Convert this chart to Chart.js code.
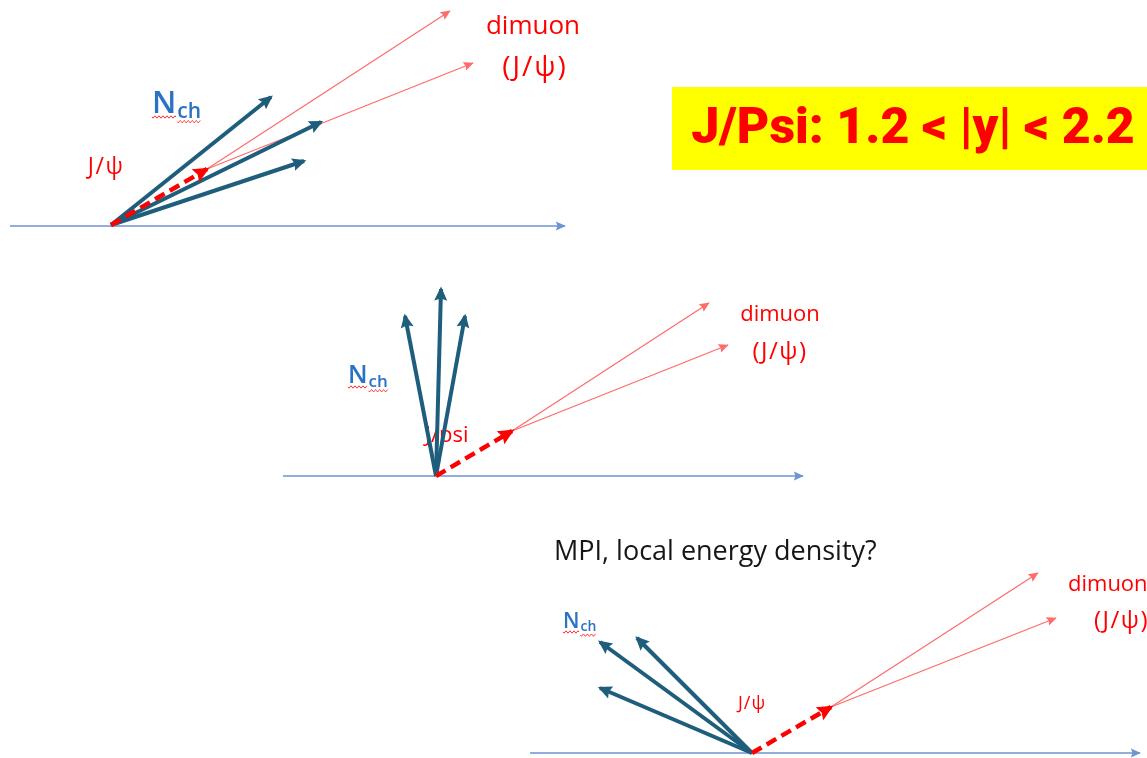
<!DOCTYPE html>
<html>
<head>
<meta charset="utf-8">
<script src="https://cdn.jsdelivr.net/npm/chart.js@4.4.0/dist/chart.umd.min.js"></script>
<style>
  html, body { margin: 0; padding: 0; background: #fff; overflow: hidden; }
  #wrap { width: 1147px; height: 758px; }
</style>
</head>
<body>
<div id="wrap"><canvas id="diagram" width="1147" height="758"></canvas></div>
<script>
// Three panels (x right, y down, in picture units)
const baselineY = [226, 476, 753];
const baselineX = [[10, 565], [283, 803], [530, 1140]];
const origins = [[111, 225], [436, 476], [752, 753]];
const nchTips = [
    [[271, 97], [321, 122], [304, 161]],
    [[405, 316], [441, 289], [465, 316]],
    [[600, 642], [637, 638], [600, 688]]
];
const jpsiTips = [[207, 169], [512, 431], [831, 707]];
const muonTips = [
    [[450, 11], [473, 63]],
    [[709, 303], [728, 345]],
    [[1038, 573], [1056, 618]]
];
const boxCorners = [[672, 87], [1147, 170]];

const COL_NCH = '#1f5d7c';
const COL_RED = '#ff0000';
const COL_MUON = '#ff6a6a';
const COL_AXIS = '#6f93d3';
const COL_NCH_TEXT = '#2a72c4';

const toPt = p => ({ x: p[0], y: p[1] });

// Build datasets from the arrays above
const datasets = [];
baselineY.forEach((y, i) => {
    datasets.push({
        data: [toPt([baselineX[i][0], y]), toPt([baselineX[i][1], y])],
        borderColor: COL_AXIS, borderWidth: 1.5, head: [10, 4.5], order: 4
    });
    muonTips[i].forEach(t => {
        datasets.push({
            data: [toPt(jpsiTips[i]), toPt(t)],
            borderColor: COL_MUON, borderWidth: 1.2, head: [10, 4.5], order: 3
        });
    });
    nchTips[i].forEach(t => {
        datasets.push({
            data: [toPt(origins[i]), toPt(t)],
            borderColor: COL_NCH, borderWidth: 4, head: [14, 6.5], order: 2
        });
    });
    datasets.push({
        data: [toPt(origins[i]), toPt(jpsiTips[i])],
        borderColor: COL_RED, borderWidth: 4.5, borderDash: [11, 6], head: [16, 7.5], order: 1
    });
});

// Text placed on the picture
const labels = [
    { text: 'dimuon', x: 533, y: 27, size: 26, color: COL_RED, align: 'center' },
    { text: '(J/\u03c8)', x: 535, y: 68, size: 28, color: COL_RED, align: 'center', spacing: 2 },
    { text: 'J/\u03c8', x: 106, y: 167, size: 23, color: COL_RED, align: 'center', spacing: 1.5 },
    { text: 'dimuon', x: 780, y: 315, size: 22, color: COL_RED, align: 'center' },
    { text: '(J/\u03c8)', x: 780, y: 352, size: 24, color: COL_RED, align: 'center', spacing: 1.5 },
    { text: 'J/psi', x: 425, y: 436, size: 22, color: COL_RED, align: 'left' },
    { text: 'MPI, local energy density?', x: 554, y: 552, size: 27, color: '#161616', align: 'left' },
    { text: 'dimuon', x: 1068, y: 585, size: 22, color: COL_RED, align: 'left' },
    { text: '(J/\u03c8)', x: 1094, y: 621, size: 24, color: COL_RED, align: 'left', spacing: 1.5 },
    { text: 'J/\u03c8', x: 752, y: 704, size: 18, color: COL_RED, align: 'center', spacing: 1 }
];
const nchLabels = [
    { x: 152, y: 113, size: 31 },
    { x: 348, y: 383, size: 25 },
    { x: 563, y: 628, size: 21 }
];

function squiggle(ctx, x0, x1, y, amp) {
    ctx.beginPath();
    ctx.moveTo(x0, y);
    for (let x = x0; x <= x1; x += 1) {
        ctx.lineTo(x, y + amp * Math.sin((x - x0) * Math.PI / 2));
    }
    ctx.strokeStyle = '#ff3030';
    ctx.lineWidth = 1;
    ctx.stroke();
}

const textPlugin = {
    id: 'diagramText',
    beforeDatasetsDraw(chart) {
        const ctx = chart.ctx;
        const sx = chart.scales.x, sy = chart.scales.y;
        ctx.save();

        // yellow title box
        const bx0 = sx.getPixelForValue(boxCorners[0][0]), by0 = sy.getPixelForValue(boxCorners[0][1]);
        const bx1 = sx.getPixelForValue(boxCorners[1][0]), by1 = sy.getPixelForValue(boxCorners[1][1]);
        ctx.fillStyle = '#ffff00';
        ctx.fillRect(bx0, by0, bx1 - bx0, by1 - by0);
        ctx.fillStyle = COL_RED;
        ctx.font = '900 50px Roboto, "Liberation Sans", sans-serif';
        ctx.textAlign = 'center';
        ctx.textBaseline = 'middle';
        ctx.fillText('J/Psi: 1.2 < |y| < 2.2', 913, (by0 + by1) / 2 + 2);

        labels.forEach(l => {
            ctx.font = l.size + 'px "Open Sans", sans-serif';
            ctx.letterSpacing = (l.spacing || 0) + 'px';
            ctx.fillStyle = l.color;
            ctx.textAlign = l.align;
            ctx.textBaseline = 'middle';
            ctx.fillText(l.text, sx.getPixelForValue(l.x), sy.getPixelForValue(l.y));
        });
        ctx.letterSpacing = '0px';

        nchLabels.forEach(n => {
            const x = sx.getPixelForValue(n.x), y = sy.getPixelForValue(n.y);
            ctx.textAlign = 'left';
            ctx.textBaseline = 'alphabetic';
            ctx.fillStyle = COL_NCH_TEXT;
            ctx.font = '600 ' + n.size + 'px "Open Sans", sans-serif';
            ctx.fillText('N', x, y);
            const wN = ctx.measureText('N').width;
            const sub = Math.round(n.size * 0.68);
            const ySub = y + n.size * 0.15;
            ctx.font = '600 ' + sub + 'px "Open Sans", sans-serif';
            ctx.fillText('ch', x + wN + 1, ySub);
            const wC = ctx.measureText('ch').width;
            squiggle(ctx, x, x + wN, y + 4, 1.2);
            squiggle(ctx, x + wN + 1, x + wN + 1 + wC, ySub + 4, 1.2);
        });
        ctx.restore();
    }
};

const arrowPlugin = {
    id: 'arrowHeads',
    afterDatasetDraw(chart, args) {
        const ds = chart.data.datasets[args.index];
        if (!ds.head) return;
        const pts = args.meta.data;
        const a = pts[0], b = pts[pts.length - 1];
        const ang = Math.atan2(b.y - a.y, b.x - a.x);
        const len = ds.head[0], half = ds.head[1];
        const ctx = chart.ctx;
        ctx.save();
        ctx.translate(b.x, b.y);
        ctx.rotate(ang);
        ctx.beginPath();
        ctx.moveTo(ds.borderWidth * 0.6, 0);
        ctx.lineTo(ds.borderWidth * 0.6 - len, -half);
        ctx.lineTo(ds.borderWidth * 0.6 - len * 0.85, 0);
        ctx.lineTo(ds.borderWidth * 0.6 - len, half);
        ctx.closePath();
        ctx.fillStyle = ds.borderColor;
        ctx.fill();
        ctx.restore();
    }
};

new Chart(document.getElementById('diagram').getContext('2d'), {
    type: 'scatter',
    data: { datasets: datasets.map(d => Object.assign({
        showLine: true, pointRadius: 0, pointHoverRadius: 0, fill: false,
        borderCapStyle: 'butt', tension: 0
    }, d)) },
    options: {
        responsive: false,
        animation: false,
        events: [],
        layout: { padding: 0 },
        scales: {
            x: { type: 'linear', min: 0, max: 1147, display: false },
            y: { type: 'linear', min: 0, max: 758, reverse: true, display: false }
        },
        plugins: {
            legend: { display: false },
            tooltip: { enabled: false }
        }
    },
    plugins: [textPlugin, arrowPlugin]
});
</script>
</body>
</html>
